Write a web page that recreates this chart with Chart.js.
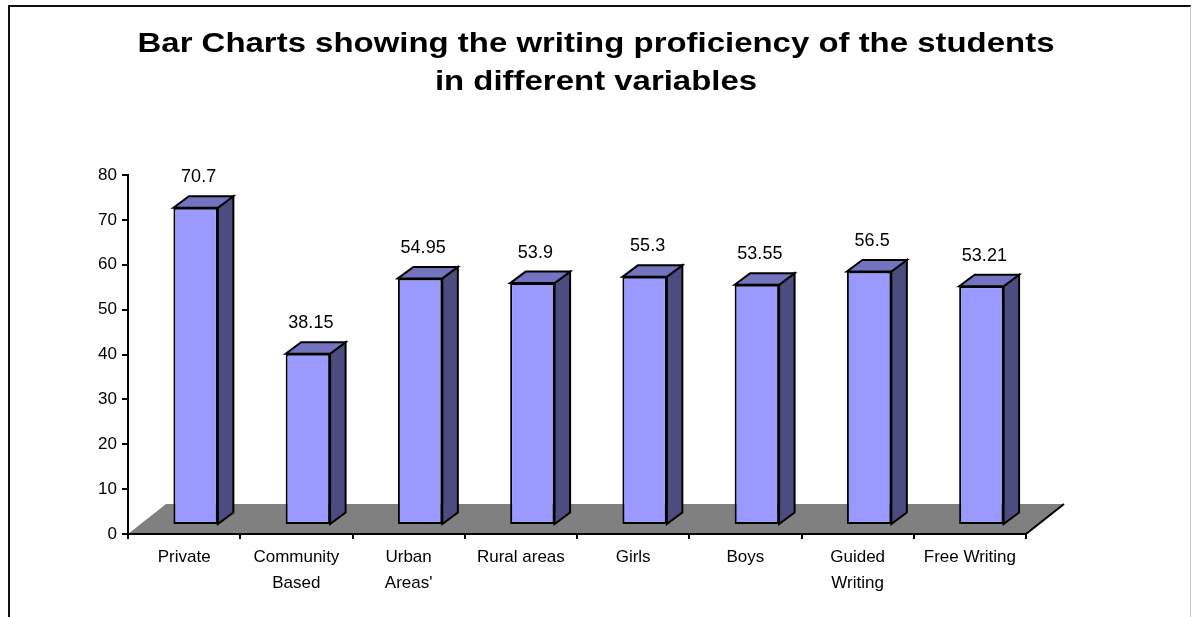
<!DOCTYPE html>
<html><head><meta charset="utf-8">
<script src="https://cdn.jsdelivr.net/npm/chart.js@4.4.1/dist/chart.umd.min.js"></script>
<style>
html,body{margin:0;padding:0;background:#fff;}
#wrap{position:relative;width:1192px;height:617px;overflow:hidden;}
#frame{position:absolute;left:8px;top:5px;width:1180px;height:700px;border-top:2px solid #111;border-left:2px solid #111;border-right:1px solid #c8c8c8;}
canvas{position:absolute;left:0;top:0;}
</style></head><body>
<div id="wrap"><div id="frame"></div><canvas id="c" width="1192" height="617"></canvas></div>
<script>
const titleLines = ["Bar Charts showing the writing proficiency of the students", "in different variables"];
const categories = ["Private", ["Community", "Based"], ["Urban", "Areas'"], "Rural areas", "Girls", "Boys", ["Guided", "Writing"], "Free Writing"];
const values = [70.7, 38.15, 54.95, 53.9, 55.3, 53.55, 56.5, 53.21];
const valueLabels = ["70.7", "38.15", "54.95", "53.9", "55.3", "53.55", "56.5", "53.21"];
const yTicks = [0, 10, 20, 30, 40, 50, 60, 70, 80];

const FONT = "'Liberation Sans', Arial, sans-serif";
const FRONT_DX = 11.5, FRONT_DY = -9;      // placement of bar front inside the 3D depth
const DEPTH_DX = 15.5, DEPTH_DY = -11.5;   // bar depth
const FLOOR_DX = 38, FLOOR_DY = -30;       // floor depth
const TITLE_STRETCH = 1.22;

const threeD = {
  id: 'threeD',
  beforeDraw(chart) {
    const tb = chart.titleBlock;
    if (tb && !tb._stretched) {
      const orig = tb.draw.bind(tb);
      tb.draw = function () {
        const c = this.ctx, cx = (this.left + this.right) / 2;
        c.save(); c.translate(chart.width / 2, 0); c.scale(TITLE_STRETCH, 1); c.translate(-cx, 0);
        orig(); c.restore();
      };
      tb._stretched = true;
    }
    const {ctx, scales: {x, y}} = chart;
    const y0 = y.getPixelForValue(0);
    ctx.save();
    ctx.fillStyle = '#808080';
    ctx.beginPath();
    ctx.moveTo(x.left, y0);
    ctx.lineTo(x.right, y0);
    ctx.lineTo(x.right + FLOOR_DX, y0 + FLOOR_DY);
    ctx.lineTo(x.left + FLOOR_DX, y0 + FLOOR_DY);
    ctx.closePath();
    ctx.fill();
    ctx.strokeStyle = '#000'; ctx.lineWidth = 2;
    ctx.beginPath();
    ctx.moveTo(x.right, y0);
    ctx.lineTo(x.right + FLOOR_DX, y0 + FLOOR_DY);
    ctx.stroke();
    ctx.restore();
  },
  beforeDatasetDraw(chart) {
    chart.ctx.save();
    chart.ctx.translate(FRONT_DX, FRONT_DY);
  },
  afterDatasetDraw(chart, args) {
    const ctx = chart.ctx;
    ctx.lineWidth = 2; ctx.strokeStyle = '#000'; ctx.lineJoin = 'miter';
    args.meta.data.forEach(bar => {
      const p = bar.getProps(['x', 'y', 'base', 'width'], true);
      const l = p.x - p.width / 2, r = p.x + p.width / 2, t = p.y, b = p.base;
      // side
      ctx.fillStyle = '#4C4C80';
      ctx.beginPath();
      ctx.moveTo(r, t); ctx.lineTo(r + DEPTH_DX, t + DEPTH_DY);
      ctx.lineTo(r + DEPTH_DX, b + DEPTH_DY); ctx.lineTo(r, b);
      ctx.closePath(); ctx.fill(); ctx.stroke();
      // top
      ctx.fillStyle = '#7373BF';
      ctx.beginPath();
      ctx.moveTo(l, t); ctx.lineTo(l + DEPTH_DX, t + DEPTH_DY);
      ctx.lineTo(r + DEPTH_DX, t + DEPTH_DY); ctx.lineTo(r, t);
      ctx.closePath(); ctx.fill(); ctx.stroke();
    });
    ctx.restore();
  },
  afterDatasetsDraw(chart) {
    const ctx = chart.ctx;
    const meta = chart.getDatasetMeta(0);
    ctx.save();
    ctx.font = '18px ' + FONT;
    ctx.fillStyle = '#000';
    ctx.textAlign = 'center';
    ctx.textBaseline = 'middle';
    meta.data.forEach((bar, i) => {
      const p = bar.getProps(['x', 'y'], true);
      ctx.fillText(valueLabels[i], p.x + FRONT_DX + 3, p.y + FRONT_DY - 30.5);
    });
    ctx.restore();
  }
};

new Chart(document.getElementById('c'), {
  type: 'bar',
  data: {
    labels: categories,
    datasets: [{
      data: values,
      backgroundColor: '#9999FF',
      borderColor: '#000',
      borderWidth: 2,
      borderSkipped: false,
      barPercentage: 0.396,
      categoryPercentage: 1,
      clip: false
    }]
  },
  options: {
    responsive: false,
    animation: false,
    devicePixelRatio: 1,
    layout: {padding: {left: 0, right: 166, top: 0, bottom: 0}},
    plugins: {
      legend: {display: false},
      tooltip: {enabled: false},
      title: {
        display: true,
        text: titleLines,
        color: '#000',
        font: {family: FONT, size: 27, weight: 'bold', lineHeight: 38.3 / 27},
        padding: {top: 25, bottom: 73.4}
      }
    },
    scales: {
      x: {
        grid: {display: true, drawOnChartArea: false, drawTicks: true, tickLength: 5, color: '#000', lineWidth: 2, offset: true},
        border: {display: true, color: '#000', width: 2},
        ticks: {color: '#000', font: {family: FONT, size: 17, lineHeight: 1.49}, padding: 6, maxRotation: 0, autoSkip: false},
        afterFit: s => { s.height = 83; }
      },
      y: {
        min: 0, max: 80,
        afterBuildTicks: s => { s.ticks = yTicks.map(v => ({value: v})); },
        grid: {display: true, drawOnChartArea: false, drawTicks: true, tickLength: 6, color: '#000', lineWidth: 2},
        border: {display: true, color: '#000', width: 2},
        ticks: {color: '#000', font: {family: FONT, size: 17}, padding: 5},
        afterFit: s => { s.width = 128; }
      }
    }
  },
  plugins: [threeD]
});
</script>
</body></html>
